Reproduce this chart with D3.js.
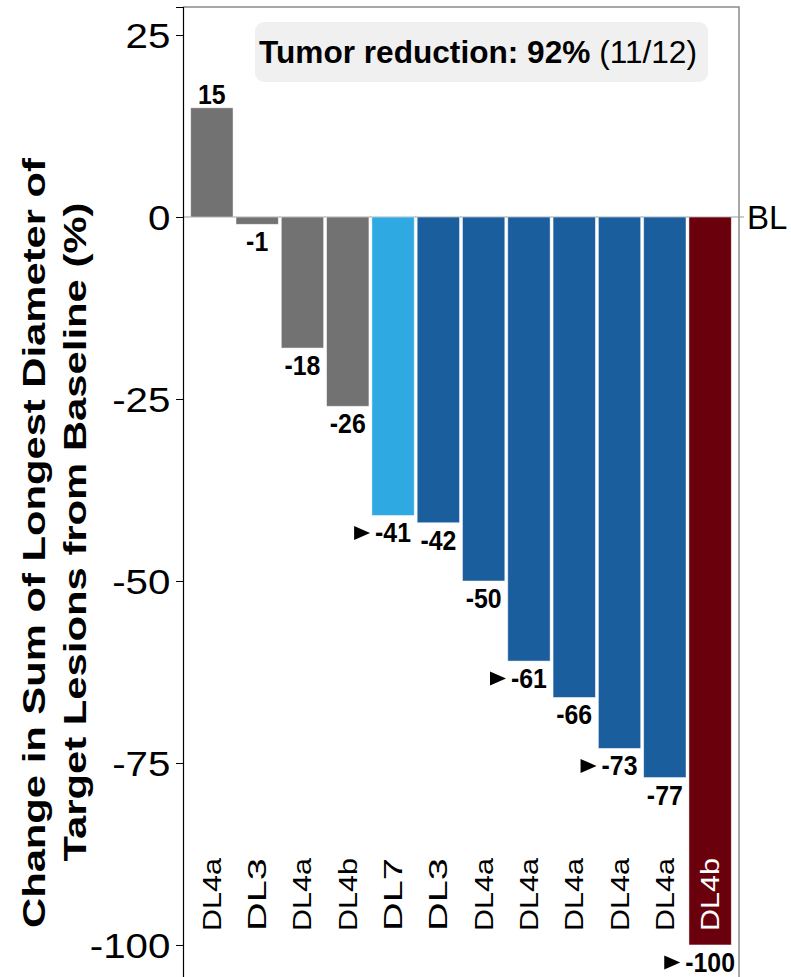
<!DOCTYPE html>
<html>
<head>
<meta charset="utf-8">
<script src="https://cdn.jsdelivr.net/npm/d3@7"></script>
<style>
  html, body { margin: 0; padding: 0; background: #ffffff; }
  svg { display: block; }
  text { font-family: "Liberation Sans", Arial, Helvetica, sans-serif; }
</style>
</head>
<body>
<svg id="chart" width="791" height="977"></svg>
<script>
// Best percent change per patient, ordered as a waterfall
const patients = ["P1","P2","P3","P4","P5","P6","P7","P8","P9","P10","P11","P12"];
const doseLevels = ["DL4a","DL3","DL4a","DL4b","DL7","DL3","DL4a","DL4a","DL4a","DL4a","DL4a","DL4b"];
const changes = [15, -1, -18, -26, -41, -42, -50, -61, -66, -73, -77, -100];
const responseGroup = ["SD","SD","SD","SD","PR7","PR","PR","PR","PR","PR","PR","CR"];
const ongoing = [false,false,false,false,true,false,false,true,false,true,false,true];
const yTicks = [25, 0, -25, -50, -75, -100];
const groupColors = { SD: "#727272", PR7: "#2EA9E1", PR: "#1B5E9E", CR: "#6B000D" };

const svg = d3.select("#chart");
const plot = { left: 183, right: 739, top: 7, bottom: 977 };

const x = d3.scaleBand()
  .domain(patients)
  .range([plot.left, plot.right])
  .paddingInner(0.065)
  .paddingOuter(0.17);

const y = d3.scaleLinear()
  .domain([-104.4, 28.85])
  .range([plot.bottom, plot.top]);

// frame (top and right edges)
svg.append("path")
  .attr("d", `M${plot.left},${plot.top}H${plot.right}V${plot.bottom}`)
  .attr("fill", "none")
  .attr("stroke", "#8a8a8a")
  .attr("stroke-width", 1.5);

// baseline at 0
svg.append("line")
  .attr("x1", plot.left).attr("x2", plot.right + 5)
  .attr("y1", y(0)).attr("y2", y(0))
  .attr("stroke", "#9a9a9a")
  .attr("stroke-width", 1.2);

// bars
svg.append("g").selectAll("rect")
  .data(changes)
  .join("rect")
  .attr("x", (d, i) => x(patients[i]))
  .attr("width", x.bandwidth())
  .attr("y", d => y(Math.max(0, d)))
  .attr("height", d => Math.abs(y(d) - y(0)))
  .attr("fill", (d, i) => groupColors[responseGroup[i]])
  .attr("stroke", "#ffffff")
  .attr("stroke-opacity", 0.6)
  .attr("stroke-width", 0.8);

// value labels, with a marker in front of ongoing responses
const labels = svg.append("g")
  .attr("font-weight", "bold")
  .attr("font-size", 27)
  .attr("text-anchor", "middle")
  .attr("fill", "#000");

changes.forEach((d, i) => {
  const cx = x(patients[i]) + x.bandwidth() / 2;
  const by = d >= 0 ? y(d) - 4 : y(d) + 27;
  const t = labels.append("text")
    .attr("x", cx)
    .attr("y", by)
    .text(d);
  const w = t.node().getComputedTextLength() * 0.92;
  t.attr("textLength", w).attr("lengthAdjust", "spacingAndGlyphs");
  if (ongoing[i]) {
    const tx = cx - w / 2 - 5;
    const ty = by - 9.5;
    svg.append("path")
      .attr("d", `M${tx - 16},${ty - 7}L${tx},${ty}L${tx - 16},${ty + 7}Z`)
      .attr("fill", "#000");
  }
});

// dose level labels inside the bottom of the plot
svg.append("g").selectAll("text")
  .data(doseLevels)
  .join("text")
  .attr("transform", (d, i) => `translate(${x(patients[i]) + x.bandwidth() / 2 + 9},931) rotate(-90)`)
  .attr("font-size", 26)
  .attr("textLength", 73)
  .attr("lengthAdjust", "spacingAndGlyphs")
  .attr("fill", (d, i) => responseGroup[i] === "CR" ? "#ffffff" : "#000000")
  .text(d => d);

// y axis
const yAxis = d3.axisLeft(y)
  .tickValues(yTicks)
  .tickSize(7)
  .tickPadding(4)
  .tickFormat(d => String(d));

const gy = svg.append("g")
  .attr("transform", `translate(${plot.left},0)`)
  .call(yAxis);
gy.select(".domain").attr("stroke", "#000").attr("stroke-width", 1.2);
gy.selectAll(".tick line").attr("stroke", "#000");
gy.selectAll(".tick text")
  .attr("font-family", "'Liberation Sans', Arial, sans-serif")
  .attr("font-size", 35)
  .attr("fill", "#000")
  .attr("dy", "0.36em")
  .attr("transform", "scale(1.15,1)");

// right-hand BL label
svg.append("text")
  .attr("x", plot.right + 8)
  .attr("y", y(0) + 12)
  .attr("font-size", 33)
  .attr("fill", "#000")
  .text("BL");

// y axis title (two lines)
const titleLines = ["Change in Sum of Longest Diameter of", "Target Lesions from Baseline (%)"];
const titleLens = [770, 659];
const titleX = [45, 86];
const titleY = [543, 532];
svg.append("g").selectAll("text")
  .data(titleLines)
  .join("text")
  .attr("transform", (d, i) => `translate(${titleX[i]},${titleY[i]}) rotate(-90)`)
  .attr("text-anchor", "middle")
  .attr("font-weight", "bold")
  .attr("font-size", 32)
  .attr("textLength", (d, i) => titleLens[i])
  .attr("lengthAdjust", "spacingAndGlyphs")
  .attr("fill", "#000")
  .text(d => d);

// response summary box
svg.append("rect")
  .attr("x", 255).attr("y", 22)
  .attr("width", 453).attr("height", 60)
  .attr("rx", 9)
  .attr("fill", "#f0f0f0");

const summary = svg.append("text")
  .attr("x", 259)
  .attr("y", 63)
  .attr("font-size", 31)
  .attr("textLength", 438)
  .attr("lengthAdjust", "spacingAndGlyphs")
  .attr("fill", "#000");
summary.append("tspan").attr("font-weight", "bold").text("Tumor reduction: 92%");
summary.append("tspan").text(" (11/12)");
</script>
</body>
</html>
